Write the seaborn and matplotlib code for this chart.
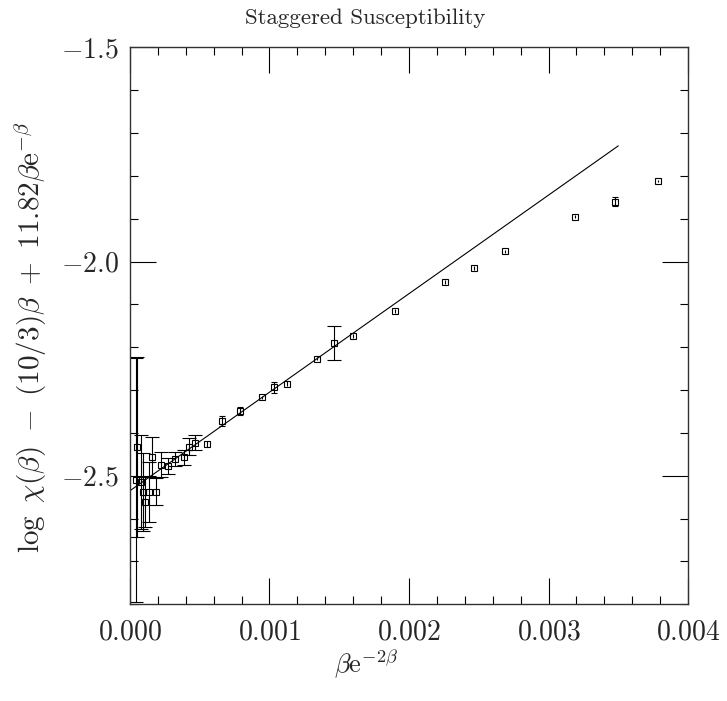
import numpy as np
import pandas as pd
import seaborn as sns
import matplotlib.pyplot as plt
from matplotlib.ticker import MultipleLocator, FuncFormatter

# values
x_vals = [0.0000523, 0.000043, 0.000077, 0.000091, 0.000108, 0.000136, 0.000160,
          0.000189, 0.000224, 0.000275, 0.000325, 0.000384, 0.000425, 0.000468,
          0.000554, 0.000659, 0.000788, 0.000943, 0.001030, 0.001123, 0.001340,
          0.001462, 0.001596, 0.001900, 0.002259, 0.002467, 0.002687, 0.003191,
          0.003478, 0.003787]
y_vals = [-2.432, -2.510, -2.514, -2.538, -2.561, -2.538, -2.457,
          -2.537, -2.474, -2.477, -2.461, -2.457, -2.432, -2.423,
          -2.426, -2.372, -2.349, -2.317, -2.294, -2.285, -2.227,
          -2.191, -2.174, -2.116, -2.048, -2.015, -1.976, -1.895,
          -1.860, -1.812]
y_errs = [0.210, 0.285, 0.110, 0.090, 0.058, 0.070, 0.047,
          0.031, 0.030, 0.019, 0.017, 0.017, 0.020, 0.018,
          0.007, 0.011, 0.009, 0.004, 0.013, 0.006, 0.004,
          0.040, 0.005, 0.005, 0.004, 0.004, 0.004, 0.003,
          0.011, 0.003]

# fitted straight line (end points)
fit_x = [0.0, 0.0035]
fit_y = [-2.535, -1.730]

sns.set_theme(style='ticks')
plt.rcParams['font.family'] = ['cmr10']
plt.rcParams['mathtext.fontset'] = 'cm'
plt.rcParams['axes.formatter.use_mathtext'] = True

df = pd.DataFrame({'x': x_vals, 'y': y_vals, 'err': y_errs})
fit_df = pd.DataFrame({'x': fit_x, 'y': fit_y})

fig, ax = plt.subplots(figsize=(7.27, 7.01), dpi=100)
fig.subplots_adjust(left=0.1788, right=0.9464, bottom=0.138, top=0.9325)

sns.lineplot(data=fit_df, x='x', y='y', color='black', linewidth=0.8, ax=ax)

# caps only show where the bar sticks out of the box
big = df[df['err'] >= 0.015]
mid = df[(df['err'] > 0.008) & (df['err'] < 0.015)]
small = df[df['err'] <= 0.008]
for part, cap in [(big, 5), (mid, 2.5), (small, 0)]:
    ax.errorbar(part['x'], part['y'], yerr=part['err'], fmt='s', ms=5, mfc='none', mec='black',
                mew=0.8, ecolor='black', elinewidth=0.8, capsize=cap, capthick=0.8)

ax.set_xlim(0, 0.004)
ax.set_ylim(-2.8, -1.5)
ax.xaxis.set_major_locator(MultipleLocator(0.001))
ax.xaxis.set_minor_locator(MultipleLocator(0.0002))
ax.yaxis.set_major_locator(MultipleLocator(0.5))
ax.yaxis.set_minor_locator(MultipleLocator(0.1))
ax.xaxis.set_major_formatter(FuncFormatter(lambda v, p: f'${v:.3f}$'))
ax.yaxis.set_major_formatter(FuncFormatter(lambda v, p: f'${v:.1f}$'))

ax.tick_params(which='both', direction='in', top=True, right=True, color='black', width=0.8)
ax.tick_params(which='major', length=19, labelsize=20)
ax.tick_params(which='minor', length=6)
ax.tick_params(axis='x', pad=11)
ax.tick_params(axis='y', pad=8)
for sp in ax.spines.values():
    sp.set_linewidth(1.0)
    sp.set_color('#333333')

ax.set_xlabel('')
ax.set_ylabel(r'$\log\ \chi(\beta)\ -\ (10/3)\beta\ +\ 11.82\beta\mathrm{e}^{-\beta}$', fontsize=21)
ax.yaxis.set_label_coords(-0.145, 0.48)

fig.text(0.503, 1 - 664 / 701, r'$\beta\mathrm{e}^{-2\beta}$', ha='center', va='center', fontsize=19)
fig.text(0.502, 1 - 18 / 701, 'Staggered Susceptibility', ha='center', va='center', fontsize=16.5)

plt.savefig('out.png', dpi=100)
